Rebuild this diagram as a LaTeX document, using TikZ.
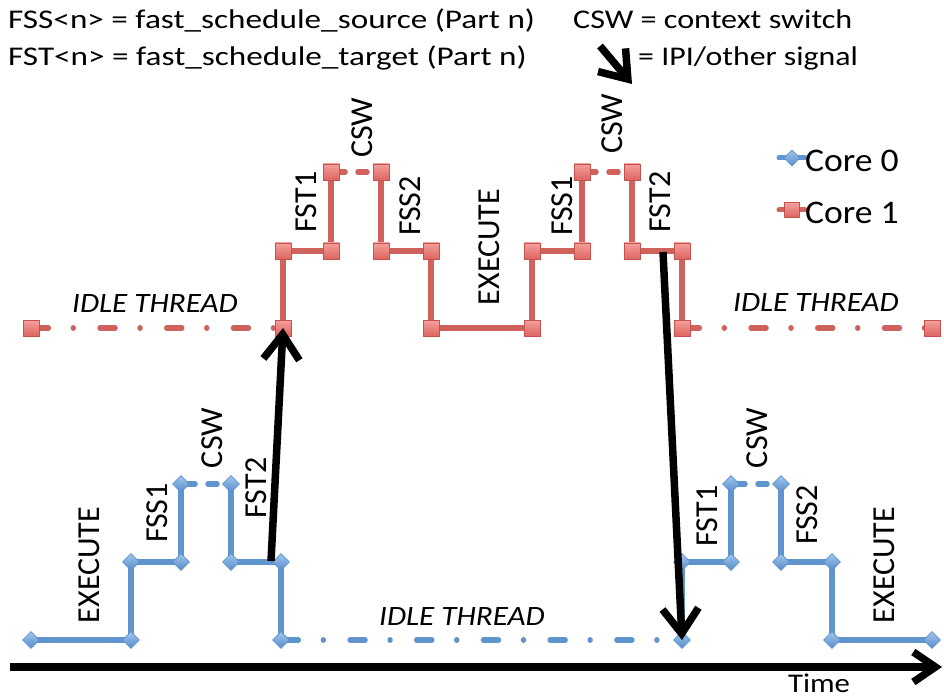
\documentclass[tikz,border=0pt]{standalone}
\usepackage{fontspec}
\usepackage{graphicx}
\setmainfont{Carlito}
\usetikzlibrary{arrows.meta,shapes.geometric,shadings}
\definecolor{bl}{RGB}{96,148,205}
\definecolor{bltop}{RGB}{160,198,236}
\definecolor{blbot}{RGB}{88,140,204}
\definecolor{rd}{RGB}{208,98,93}
\definecolor{rdtop}{RGB}{244,160,156}
\definecolor{rdbot}{RGB}{222,100,95}
\definecolor{rdedge}{RGB}{196,82,78}
\newcommand{\wide}[2]{\scalebox{#1}[1]{#2}}
\tikzset{
  bline/.style={draw=bl,line width=5.5pt,line join=miter},
  rline/.style={draw=rd,line width=5.5pt,line join=miter},
  cswdash/.style={line cap=round,dash pattern=on 14pt off 13pt on 9pt off 14pt},
  idledash/.style={line cap=round,dash pattern=on 15pt off 25pt on 0.01pt off 26.7pt,dash phase=64.4pt},
  bmark/.style={diamond,aspect=1,inner sep=0pt,minimum width=17pt,minimum height=17pt,top color=bltop,bottom color=blbot,draw=bl,line width=0.6pt},
  rmark/.style={rectangle,inner sep=0pt,minimum size=16pt,top color=rdtop,bottom color=rdbot,draw=rdedge,line width=0.6pt},
  sig/.style={draw=black,line width=7.5pt,-{Straight Barb[length=25pt,width=36pt]}},
  axisline/.style={draw=black,line width=7.5pt,-{Straight Barb[length=22pt,width=30pt]}},
  lbl/.style={rotate=90,inner sep=0pt,font=\fontsize{32}{38}\selectfont},
  hdr/.style={inner sep=0pt,font=\fontsize{27}{32}\selectfont},
  idle/.style={inner sep=0pt,font=\fontsize{28}{34}\selectfont\itshape},
  leg/.style={inner sep=0pt,font=\fontsize{33}{40}\selectfont},
}
\begin{document}
\begin{tikzpicture}[x=1pt,y=-1pt]
\useasboundingbox[fill=white] (0,0) rectangle (944,700);
% ---- header
\node[hdr,anchor=base west] (h1) at (8,29) {\wide{1.23}{FSS<n> = fast\_schedule\_source (Part n)}};
\node[hdr,anchor=base west] (h2) at (8,66) {\wide{1.23}{FST<n> = fast\_schedule\_target (Part n)}};
\node[hdr,anchor=base west] (h3) at (573,29) {\wide{1.19}{CSW = context switch}};
\node[hdr,anchor=base west] (h4) at (638,66) {\wide{1.18}{= IPI/other signal}};
\coordinate (lga) at (600,46);
\coordinate (lgb) at (632,84);
% ---- point coordinates
\foreach \n/\x/\y in {1/31/640,2/131/640,3/131/562,4/181/562,5/181/484,6/231/484,7/231/562,8/281/562,9/281/640,
  10/682/640,11/682/562,12/731/562,13/731/484,14/781/484,15/781/562,16/832/562,17/832/640,18/932/640}
  \coordinate (b\n) at (\x,\y);
\foreach \n/\x/\y in {1/31/328,2/283/328,3/283/251,4/331/251,5/331/172,6/381/172,7/381/251,8/431/251,9/431/328,
  10/532/328,11/532/251,12/582/251,13/582/172,14/632/172,15/632/251,16/682/251,17/682/328,18/932/328}
  \coordinate (r\n) at (\x,\y);
% ---- blue lines (Core 0)
\draw[bline] (b1) -- (b2) -- (b3) -- (b4) -- (b5);
\draw[bline,cswdash] (b5) -- (b6);
\draw[bline] (b6) -- (b7) -- (b8) -- (b9);
\draw[bline,idledash] (b9) -- (b10);
\draw[bline] (b10) -- (b11) -- (b12) -- (b13);
\draw[bline,cswdash] (b13) -- (b14);
\draw[bline] (b14) -- (b15) -- (b16) -- (b17) -- (b18);
% ---- red lines (Core 1)
\draw[rline,idledash] (r1) -- (r2);
\draw[rline] (r2) -- (r3) -- (r4) -- (r5);
\draw[rline,cswdash] (r5) -- (r6);
\draw[rline] (r6) -- (r7) -- (r8) -- (r9) -- (r10) -- (r11) -- (r12) -- (r13);
\draw[rline,cswdash] (r13) -- (r14);
\draw[rline] (r14) -- (r15) -- (r16) -- (r17);
\draw[rline,idledash] (r17) -- (r18);
% ---- markers
\foreach \n in {1,...,18} \node[bmark] (bm\n) at (b\n) {};
\foreach \n in {1,...,18} \node[rmark] (rm\n) at (r\n) {};
% ---- legend
\coordinate (l0a) at (779,158); \coordinate (l0b) at (805,158);
\coordinate (l1a) at (779,210); \coordinate (l1b) at (805,210);
\draw[bline,line width=5pt,line cap=round] (l0a) -- (l0b);
\draw[rline,line width=5pt,line cap=round] (l1a) -- (l1b);
\node[bmark,minimum width=16pt,minimum height=16pt] (lm0) at (792,158) {};
\node[rmark,minimum size=15pt] (lm1) at (792,210) {};
\node[leg,anchor=west] (lt0) at (805,161) {\wide{1.08}{Core 0}};
\node[leg,anchor=west] (lt1) at (805,213) {\wide{1.08}{Core 1}};
% ---- labels core 0
\node[lbl] (e1) at (89,565) {EXECUTE};
\node[lbl] (s1) at (157,513) {FSS1};
\node[lbl] (c1) at (212,438) {CSW};
\node[lbl] (t2) at (256,488) {FST2};
\node[lbl] (t1b) at (707,516) {FST1};
\node[lbl] (c2) at (757,438) {CSW};
\node[lbl] (s2) at (807,515) {FSS2};
\node[lbl] (e2) at (884,565) {EXECUTE};
\node[idle] (i0) at (462,617) {\wide{1.11}{IDLE THREAD}};
% ---- labels core 1
\node[idle] (i1) at (155,304) {\wide{1.11}{IDLE THREAD}};
\node[idle] (i2) at (816,303) {\wide{1.11}{IDLE THREAD}};
\node[lbl] (rt1) at (306,202) {FST1};
\node[lbl] (rc1) at (362,128) {CSW};
\node[lbl] (rs2) at (410,206) {FSS2};
\node[lbl] (re) at (489,247) {EXECUTE};
\node[lbl] (rs1) at (562,206) {FSS1};
\node[lbl] (rc2) at (612,124) {CSW};
\node[lbl] (rt2) at (660,202) {FST2};
% ---- signal arrows
\coordinate (upstart) at (271,561);
\coordinate (dnstart) at (663,252);
\draw[sig] (upstart) -- (r2);
\draw[sig] (dnstart) -- (b10);
\draw[sig] (lga) -- (lgb);
% ---- time axis
\coordinate (t0) at (10,667);
\coordinate (t1) at (942,667);
\draw[axisline] (t0) -- (t1);
\node[inner sep=0pt,font=\fontsize{27}{32}\selectfont,anchor=base] (time) at (819,692) {\wide{1.14}{Time}};
\end{tikzpicture}
\end{document}
